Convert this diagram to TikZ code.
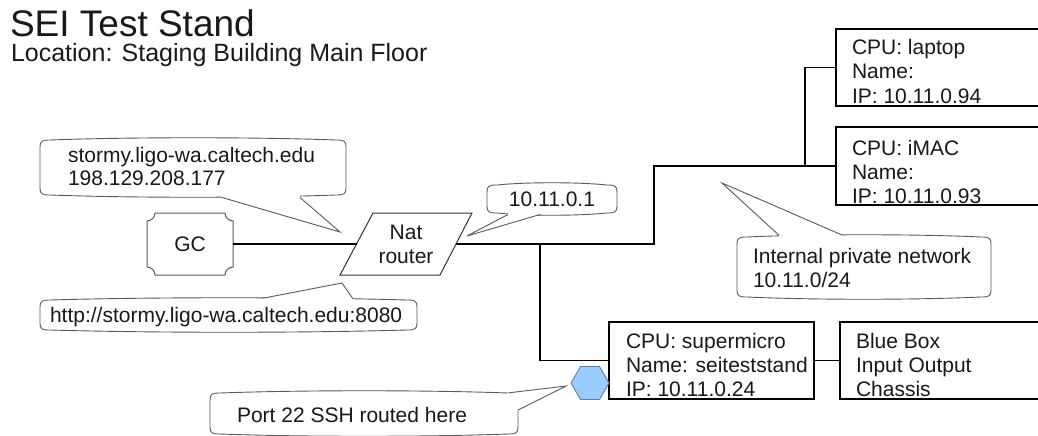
\documentclass[tikz,border=0pt]{standalone}
\usepackage{fontspec}
\setmainfont{Liberation Sans}
\usetikzlibrary{shapes.geometric,calc}
\definecolor{hexfill}{HTML}{99CCFF}
\definecolor{hexline}{HTML}{5F7FA0}
\definecolor{calloutline}{HTML}{5A5A5A}
\newcommand\cbox[4]{%
\filldraw[cline, fill=white] ({#1},{#2+7}) .. controls ({#1},{#2+1}) and ({#1+2},{#2}) .. ({#1+10},{#2})
 .. controls ({#1+(#3-#1)*0.3},{#2-3}) and ({#3-(#3-#1)*0.3},{#2-3}) .. ({#3-10},{#2})
 .. controls ({#3-2},{#2}) and ({#3},{#2+1}) .. ({#3},{#2+7})
 -- ({#3},{#4-7}) .. controls ({#3},{#4-1}) and ({#3-2},{#4}) .. ({#3-10},{#4})
 .. controls ({#3-(#3-#1)*0.3},{#4+3}) and ({#1+(#3-#1)*0.3},{#4+3}) .. ({#1+10},{#4})
 .. controls ({#1+2},{#4}) and ({#1},{#4-1}) .. ({#1},{#4-7}) -- cycle;}
\newcommand\ctail[8]{%
\fill[white] ({#1},{#2}) -- ({#3},{#4}) -- ({#5},{#6}) -- ({#5+(#7)},{#6+(#8)}) -- ({#1+(#7)},{#2+(#8)}) -- cycle;
\draw[cline] ({#1},{#2}) -- ({#3},{#4}) -- ({#5},{#6});}
\newcommand\lns[1]{\vtop{#1}}
\begin{document}
\begin{tikzpicture}[x=1pt,y=-1pt,
  conn/.style={line width=1.1pt, draw=black},
  cline/.style={line width=0.9pt, draw=calloutline},
  txt/.style={font=\fontsize{21}{24}\selectfont, inner sep=0pt, outer sep=0pt, text=black!90},
  boxn/.style={draw=black, line width=1.1pt, inner sep=0pt, outer sep=0pt, fill=white}]
\useasboundingbox (0,0) rectangle (1038,436);
\clip (0,0) rectangle (1038,436);
\fill[white] (0,0) rectangle (1038,436);

% title
\node[txt, font=\fontsize{37}{40}\selectfont, anchor=base west] (title) at (10,37) {SEI Test Stand};
\node[txt, font=\fontsize{25}{28}\selectfont, anchor=base west] (loc) at (11,62) {Location: Staging Building Main Floor};

% GC plaque
\draw[cline, line width=1pt, fill=white] (155,213) -- (225,213) .. controls (225,217.4) and (228.6,221) .. (233,221)
  -- (233,267) .. controls (228.6,267) and (225,270.6) .. (225,275)
  -- (155,275) .. controls (155,270.6) and (151.4,267) .. (147,267)
  -- (147,221) .. controls (151.4,221) and (155,217.4) .. (155,213) -- cycle;
\node[txt, minimum width=86, minimum height=62] (gc) at (190,244) {GC};

% router
\draw[conn, line width=1pt, draw=black!80, fill=white] (373,213) -- (472,213) -- (440,275) -- (340,275) -- cycle;
\node[txt, align=center] (router) at (406,244) {Nat\\router};
\coordinate (rL) at (356.5,244);
\coordinate (rR) at (456,244);

% boxes
\node[boxn, minimum width=264, minimum height=77] (laptop) at (968,67.5) {};
\node[boxn, minimum width=264, minimum height=78] (imac) at (968,166) {};
\node[boxn, minimum width=205, minimum height=77] (super) at (711.5,360.5) {};
\node[boxn, minimum width=262, minimum height=77] (blue) at (971,360.5) {};

% connectors
\coordinate (j1) at (540,244);
\coordinate (j2) at (654,244);
\coordinate (j3) at ($(imac.west)+(-31,0)$);
\draw[conn] (gc.east) -- (rL);
\draw[conn] (rR) -- (j2) |- (imac.west);
\draw[conn] (j3) |- (laptop.west);
\draw[conn] (j1) |- (super.west);
\draw[conn] (super.east) -- (blue.west);

% box texts
\node[txt, anchor=base west] (laptopt) at (852,55) {\lns{\hbox{CPU: laptop}\hbox{Name:}\hbox{IP: 10.11.0.94}}};
\node[txt, anchor=base west] (imact) at (852,155) {\lns{\hbox{CPU: iMAC}\hbox{Name:}\hbox{IP: 10.11.0.93}}};
\node[txt, anchor=base west] (supert) at (626,348) {\lns{\hbox{CPU: supermicro}\hbox{Name: seiteststand}\hbox{IP: 10.11.0.24}}};
\node[txt, anchor=base west] (bluet) at (856,348) {\lns{\hbox{Blue Box}\hbox{Input Output}\hbox{Chassis}}};

% hexagon
\node[regular polygon, regular polygon sides=6, minimum size=38, inner sep=0pt, outer sep=0pt,
  fill=hexfill, draw=hexline, line width=0.9pt] (hex) at (590,383) {};

% callouts
\cbox{40}{140}{346}{195}
\ctail{222}{197.5}{340}{232}{300}{197.5}{0}{-5}
\node[txt, anchor=base west] (stormy) at (68,162) {\lns{\baselineskip=23pt\hbox{stormy.ligo-wa.caltech.edu}\hbox{198.129.208.177}}};

\cbox{487}{185}{617}{213}
\ctail{508}{214.5}{467}{236}{540}{214.5}{0}{-4}
\node[txt] (natip) at (552,199) {10.11.0.1};

\cbox{40}{300}{417}{330}
\ctail{263}{298.2}{342}{283}{353}{298.8}{0}{5}
\node[txt, anchor=base west] (http) at (50,322) {http://stormy.ligo-wa.caltech.edu:8080};

\cbox{737}{237}{991}{297}
\ctail{779}{235.3}{722}{183}{842}{235}{0}{5}
\node[txt, anchor=base west] (internal) at (753,263) {\lns{\hbox{Internal private network}\hbox{10.11.0/24}}};

\cbox{210}{393}{518}{434}
\ctail{509}{392.8}{566}{386}{518}{410}{-5}{5}
\node[txt, anchor=base west] (port) at (237,422) {Port 22 SSH routed here};
\end{tikzpicture}
\end{document}
